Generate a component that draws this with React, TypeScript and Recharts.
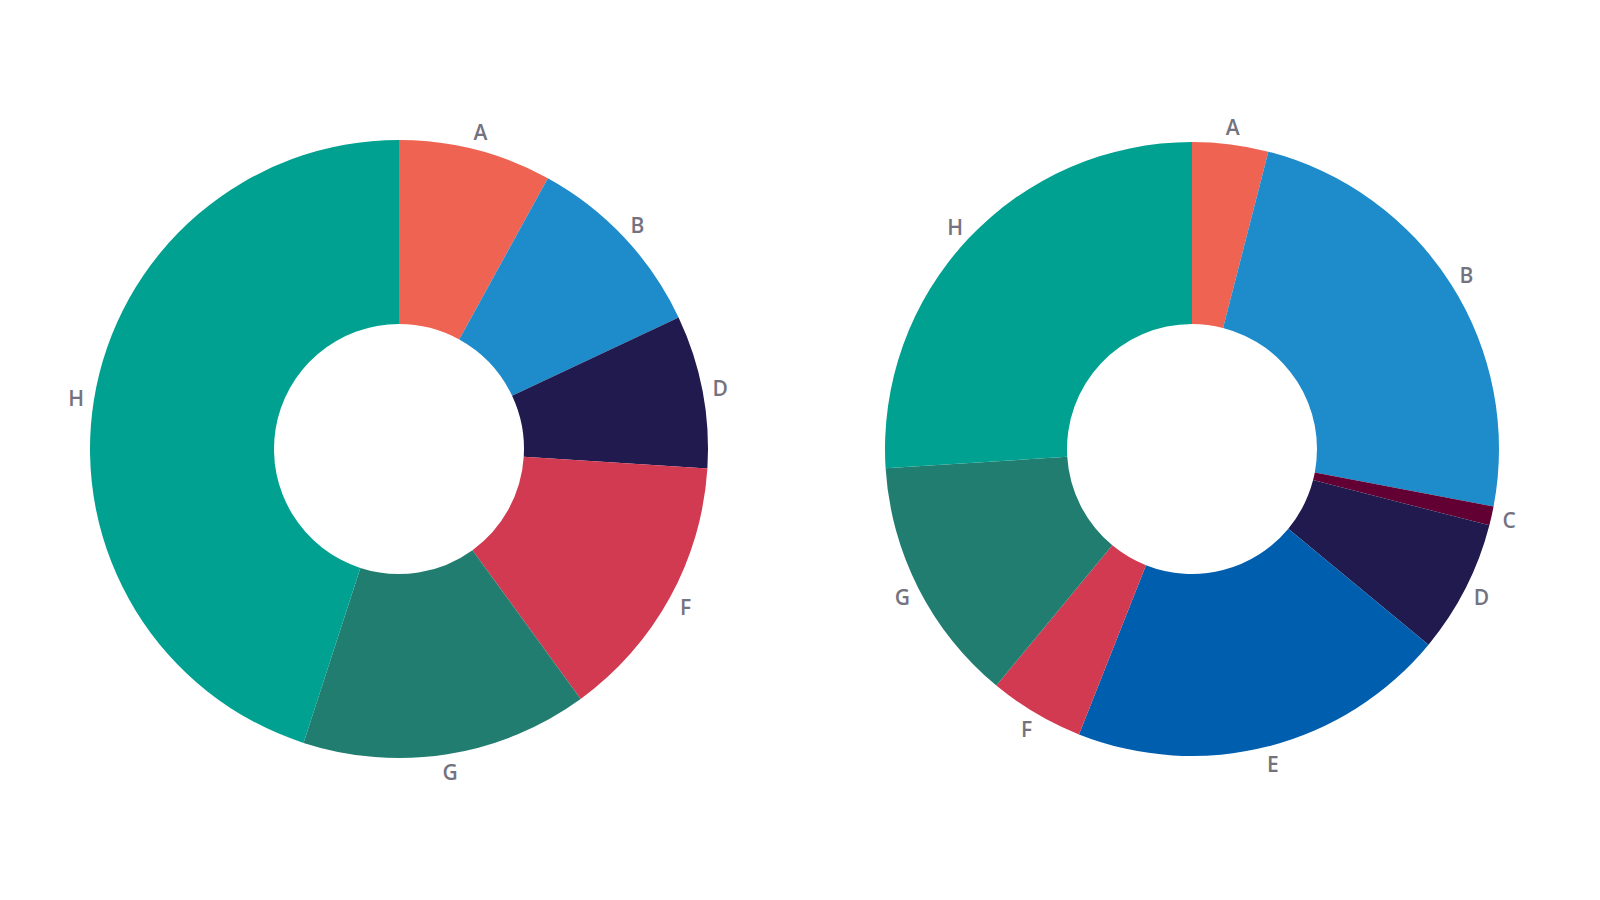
import { Cell, Pie, PieChart } from "recharts";

const colors: Record<string, string> = {
  A: "#EE6352",
  B: "#1E8BCB",
  C: "#620033",
  D: "#211A4E",
  E: "#005EAE",
  F: "#D13A51",
  G: "#217D70",
  H: "#00A190",
};

const leftNames = ["A", "B", "D", "F", "G", "H"];
const leftValues = [8, 10, 8, 14, 15, 45];

const rightNames = ["A", "B", "C", "D", "E", "F", "G", "H"];
const rightValues = [4, 24, 1, 7, 20, 5, 13, 26];

const leftData = leftNames.map((name, i) => ({ name, value: leftValues[i] }));
const rightData = rightNames.map((name, i) => ({ name, value: rightValues[i] }));

const RAD = Math.PI / 180;

function renderLabel(props: any) {
  const { cx, cy, midAngle, outerRadius, name } = props;
  const r = outerRadius + 18;
  const x = cx + r * Math.cos(-midAngle * RAD);
  const y = cy + r * Math.sin(-midAngle * RAD);
  return (
    <text
      x={x}
      y={y}
      fill="#75727F"
      fontSize={21}
      fontWeight={600}
      fontFamily="'Open Sans', Lato, sans-serif"
      textAnchor="middle"
      dominantBaseline="central"
    >
      {name}
    </text>
  );
}

export default function App() {
  return (
    <div style={{ position: "absolute", left: 0, top: 0, width: 1600, height: 900, background: "#fff" }}>
      <PieChart width={1600} height={900} margin={{ top: 0, right: 0, bottom: 0, left: 0 }}>
        <Pie
          data={leftData}
          dataKey="value"
          nameKey="name"
          cx={399}
          cy={449}
          innerRadius={125}
          outerRadius={309}
          startAngle={90}
          endAngle={-270}
          stroke="none"
          label={renderLabel}
          labelLine={false}
          isAnimationActive={false}
        >
          {leftData.map((d) => (
            <Cell key={d.name} fill={colors[d.name]} />
          ))}
        </Pie>
        <Pie
          data={rightData}
          dataKey="value"
          nameKey="name"
          cx={1192}
          cy={449}
          innerRadius={125}
          outerRadius={307}
          startAngle={90}
          endAngle={-270}
          stroke="none"
          label={renderLabel}
          labelLine={false}
          isAnimationActive={false}
        >
          {rightData.map((d) => (
            <Cell key={d.name} fill={colors[d.name]} />
          ))}
        </Pie>
      </PieChart>
    </div>
  );
}
